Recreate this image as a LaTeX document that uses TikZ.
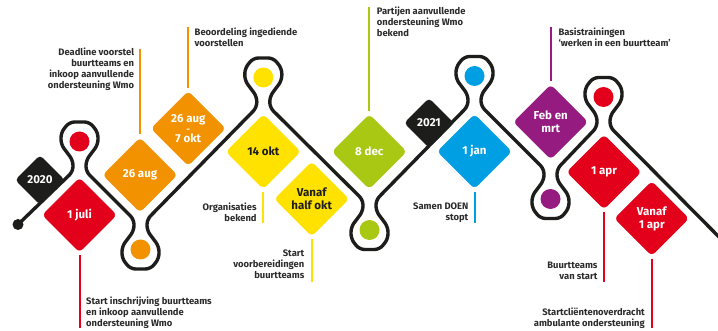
\documentclass[tikz,border=0pt]{standalone}
\usepackage{fontspec}
\setmainfont{Fira Sans}
\usetikzlibrary{shapes.geometric}
\definecolor{cred}{HTML}{E2001A}
\definecolor{corange}{HTML}{F39200}
\definecolor{cyellow}{HTML}{FFE200}
\definecolor{cgreen}{HTML}{A8C813}
\definecolor{cblue}{HTML}{009FE3}
\definecolor{cpurple}{HTML}{951B81}
\definecolor{cblack}{HTML}{1D1D1B}
\definecolor{ctext}{HTML}{2B2B2B}
\begin{document}
\begin{tikzpicture}[x=1pt,y=-1pt,
  track/.style={line width=3.4pt, draw=cblack, rounded corners=5pt, line join=round},
  dia/.style={diamond, aspect=1, minimum size=79pt, inner sep=0pt, draw=white, line width=2pt,
    rounded corners=6pt, text=white, align=center, font=\bfseries\fontsize{11.5}{13}\selectfont},
  yeardia/.style={diamond, aspect=1, minimum size=50pt, inner sep=0pt, fill=cblack,
    rounded corners=4pt, text=white, font=\bfseries\fontsize{11.5}{13}\selectfont},
  stem/.style={line width=2pt},
  lbl/.style={inner sep=0pt, font=\bfseries\fontsize{9.4}{10.9}\selectfont, text=ctext},
  knob/.style={circle, inner sep=0pt, minimum size=20pt},
  enddot/.style={circle, inner sep=0pt, minimum size=11pt, fill=cblack}
]
\clip (0,0) rectangle (718,331);
\fill[white] (0,0) rectangle (718,331);

% start dot
\node[enddot] (start) at (18,224.5) {};
\coordinate (finish) at (724,242);

% track
\draw[track] (start.center) -- (73,171.5) -- (73,160.5) -- (61,144.5) -- (61,132.5) -- (69.5,122) -- (89.5,122) -- (98,132.5) -- (98,144.5) -- (86,160.5) -- (86,171.5)
 -- (134,219.5) -- (134,230.5) -- (122,246.5) -- (122,258.5) -- (130.5,269) -- (150.5,269) -- (159,258.5) -- (159,246.5) -- (147,230.5) -- (147,219.5)
 -- (256.8,107.5) -- (256.8,96.5) -- (244.8,80.5) -- (244.8,68.5) -- (253.3,58) -- (273.3,58) -- (281.8,68.5) -- (281.8,80.5) -- (269.8,96.5) -- (269.8,107.5)
 -- (363,200) -- (363,211) -- (351,227) -- (351,239) -- (359.5,249.5) -- (379.5,249.5) -- (388,239) -- (388,227) -- (376,211) -- (376,200)
 -- (468,106) -- (468,95) -- (456,79) -- (456,67) -- (464.5,56.5) -- (484.5,56.5) -- (493,67) -- (493,79) -- (481,95) -- (481,106)
 -- (544,169) -- (544,180) -- (532,196) -- (532,208) -- (540.5,218.5) -- (560.5,218.5) -- (569,208) -- (569,196) -- (557,180) -- (557,169)
 -- (597,127) -- (597,116) -- (585,100) -- (585,88) -- (593.5,77.5) -- (613.5,77.5) -- (622,88) -- (622,100) -- (610,116) -- (610,127)
 -- (finish);

% knobs in the loops
\node[knob, fill=cred] (k1) at (79.5,141.5) {};
\node[knob, fill=corange] (k2) at (140.5,249.5) {};
\node[knob, fill=cyellow] (k3) at (263.3,77.5) {};
\node[knob, fill=cgreen] (k4) at (369.5,230) {};
\node[knob, fill=cblue] (k5) at (474.5,76) {};
\node[knob, fill=cpurple] (k6) at (550.5,199) {};
\node[knob, fill=cred] (k7) at (603.5,97) {};

% year markers
\node[yeardia] (y2020) at (40,180) {2020};
\node[yeardia] (y2021) at (429,123) {2021};

% date diamonds
\node[dia, fill=cred] (d1) at (79.5,215) {1 juli};
\node[dia, fill=corange] (d2) at (140,175) {26 aug};
\node[dia, fill=corange, font=\bfseries\fontsize{11.5}{10.2}\selectfont] (d3) at (188.3,128.5) {26 aug\\{\fontsize{9}{9}\selectfont -}\\7 okt};
\node[dia, fill=cyellow, text=cblack] (d4) at (263.3,151.7) {14 okt};
\node[dia, fill=cyellow, text=cblack] (d5) at (311.7,199) {Vanaf\\half okt};
\node[dia, fill=cgreen] (d6) at (369.3,151.7) {8 dec};
\node[dia, fill=cblue] (d7) at (474.5,151.5) {1 jan};
\node[dia, fill=cpurple] (d8) at (550.7,122) {Feb en\\mrt};
\node[dia, fill=cred] (d9) at (604,172) {1 apr};
\node[dia, fill=cred] (d10) at (651.7,218.5) {Vanaf\\1 apr};

% stem ends
\coordinate (e1) at (79.5,328);
\coordinate (e2) at (140,49);
\coordinate (e3) at (188.3,27);
\coordinate (e4) at (263.3,223);
\coordinate (e5) at (311.7,282);
\coordinate (e6) at (369.3,7);
\coordinate (e7) at (474.5,223);
\coordinate (e8) at (550.7,27);
\coordinate (e9) at (604,282);
\coordinate (e10) at (651.7,328);

\draw[stem, cred] (d1.south) -- (e1);
\draw[stem, corange] (d2.north) -- (e2);
\draw[stem, corange] (d3.north) -- (e3);
\draw[stem, cyellow] (d4.south) -- (e4);
\draw[stem, cyellow] (d5.south) -- (e5);
\draw[stem, cgreen] (d6.north) -- (e6);
\draw[stem, cblue] (d7.south) -- (e7);
\draw[stem, cpurple] (d8.north) -- (e8);
\draw[stem, cred] (d9.south) -- (e9);
\draw[stem, cred] (d10.south) -- (e10);

% labels
\node[lbl, align=right, anchor=north east] (t1) at (134.3,47.5) {Deadline voorstel\\buurtteams en\\inkoop aanvullende\\ondersteuning Wmo};
\node[lbl, align=left, anchor=north west] (t2) at (194.5,27.5) {Beoordeling ingediende\\voorstellen};
\node[lbl, align=left, anchor=north west] (t3) at (86,297) {Start inschrijving buurtteams\\en inkoop aanvullende\\ondersteuning Wmo};
\node[lbl, align=right, anchor=north east] (t4) at (256.8,202.5) {Organisaties\\bekend};
\node[lbl, align=right, anchor=north east] (t5) at (304.5,250) {Start\\voorbereidingen\\buurtteams};
\node[lbl, align=left, anchor=north west] (t6) at (376.7,6.5) {Partijen aanvullende\\ondersteuning Wmo\\bekend};
\node[lbl, align=right, anchor=north east] (t7) at (468.5,202.5) {Samen DOEN\\stopt};
\node[lbl, align=left, anchor=north west] (t8) at (558.3,27.5) {Basistrainingen\\‘werken in een buurtteam’};
\node[lbl, align=right, anchor=north east] (t9) at (597.7,261.5) {Buurtteams\\van start};
\node[lbl, align=right, anchor=north east] (t10) at (645,308) {Startcliëntenoverdracht\\ambulante ondersteuning};
\end{tikzpicture}
\end{document}
